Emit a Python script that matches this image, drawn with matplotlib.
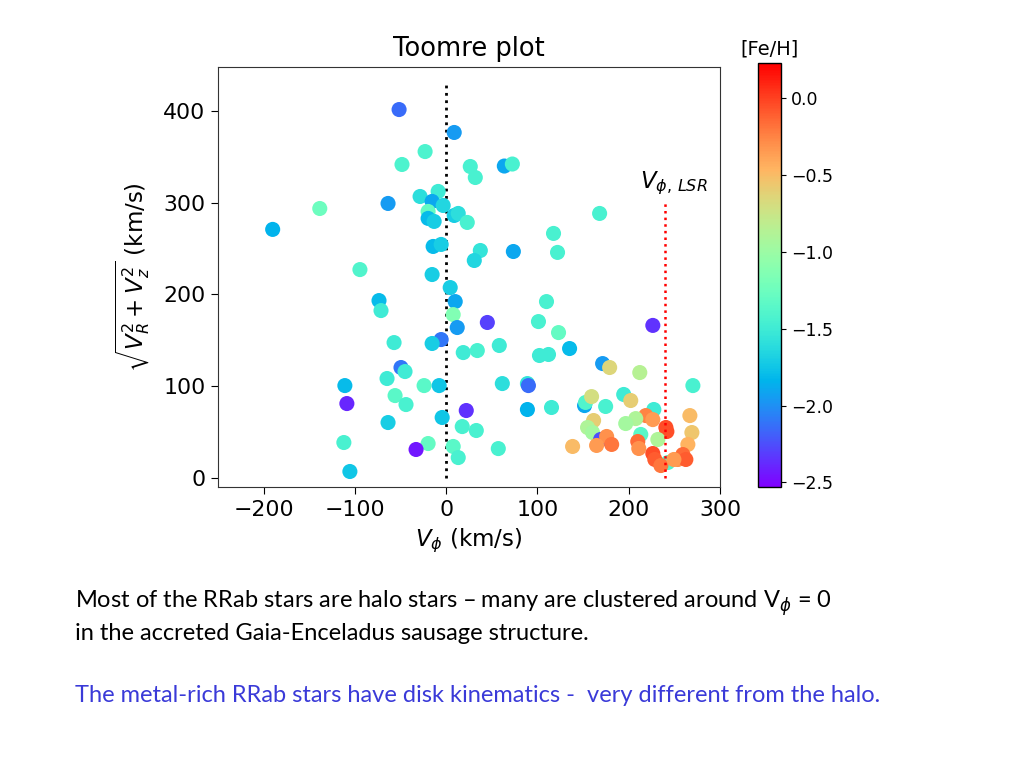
import matplotlib
matplotlib.use("Agg")
import matplotlib.pyplot as plt
import numpy as np

# ---- data ----
# Halo stars
halo_vphi = [-51.6, 8.8, -23.1, -48.4, 26.4, 31.9, 63.7, 72.5, -138.5, -63.7,
             -190.1, -28.6, -8.8, -15.4, -3.3, -19.8, -19.8, -13.2, 8.8, 13.2,
             23.1, -14.3, -5.5, 37.4, 30.8, 73.6, -94.5, -15.4, 168.1, 117.6,
             122.0, 4.4, 9.9, 7.7, -73.6, -71.4, 12.1, -5.5, -15.4, -57.1,
             18.7, 34.1, 58.2, 45.1, 109.9, 101.1, 123.1, 135.2, 102.2, 112.1,
             -49.5, -45.1, -64.8, -24.2, -7.7, -111.0, 61.5, 89.0, 90.1, -56.0,
             -44.0, -108.8, 22.0, 89.0, 115.4, -4.4, -63.7, 17.6, 33.0, -112.1,
             -19.8, -33.0, 7.7, 13.2, 57.1, -105.5, 226.4]
halo_vrz = [401.6, 376.6, 355.8, 341.7, 339.5, 327.5, 340.0, 342.2, 293.7, 299.2,
            270.9, 306.8, 312.3, 301.4, 297.0, 290.5, 282.9, 279.6, 286.1, 288.3,
            278.5, 252.3, 254.5, 247.9, 237.0, 246.8, 227.1, 221.7, 288.3, 266.5,
            245.8, 207.5, 192.2, 178.0, 193.3, 182.4, 163.9, 150.8, 146.5, 147.5,
            136.6, 138.8, 144.3, 169.4, 192.2, 170.4, 158.4, 141.0, 133.4, 134.5,
            120.3, 115.9, 108.3, 100.6, 100.6, 100.6, 102.8, 102.8, 100.6, 89.7,
            79.9, 81.0, 73.4, 74.5, 76.7, 65.8, 60.3, 55.9, 51.6, 38.5,
            37.4, 30.9, 34.2, 22.1, 31.9, 6.9, 166.2]
halo_feh = [-2.15, -1.95, -1.42, -1.42, -1.45, -1.45, -1.9, -1.45, -1.25, -1.95,
            -1.85, -1.6, -1.5, -1.9, -1.65, -1.3, -1.8, -1.7, -1.7, -1.6,
            -1.45, -1.8, -1.7, -1.55, -1.65, -1.9, -1.4, -1.7, -1.45, -1.45,
            -1.45, -1.7, -1.9, -1.15, -1.8, -1.5, -1.95, -2.1, -1.7, -1.5,
            -1.5, -1.45, -1.5, -2.3, -1.45, -1.45, -1.3, -1.8, -1.5, -1.5,
            -2.1, -1.5, -1.5, -1.35, -1.75, -1.8, -1.6, -1.55, -2.15, -1.35,
            -1.45, -2.4, -2.35, -1.85, -1.5, -1.75, -1.7, -1.45, -1.45, -1.45,
            -1.3, -2.45, -1.35, -1.45, -1.45, -1.75, -2.35]

# Disk-like stars
disk_vphi = [242.9, 151.6, 171.4, 179.1, 212.1, 270.3, 152.7, 159.3, 174.7, 194.5,
             202.2, 227.5, 218.7, 226.4, 207.7, 196.7, 161.5, 154.9, 160.4, 169.2,
             175.8, 181.3, 164.8, 138.5, 240.7, 241.8, 267.0, 269.2, 264.8, 213.2,
             231.9, 209.9, 211.0, 226.4, 228.6, 235.2, 253.8, 259.3, 262.6, 249.5]
disk_vrz = [16.7, 78.8, 124.6, 120.3, 114.8, 100.6, 82.2, 88.6, 77.8, 90.9,
            84.3, 74.5, 67.9, 63.5, 64.6, 59.2, 62.5, 54.9, 49.4, 41.8,
            45.1, 36.4, 35.3, 34.2, 54.9, 50.5, 67.9, 49.4, 36.4, 47.3,
            41.8, 39.6, 32.0, 26.5, 20.0, 13.4, 20.0, 25.4, 20.0, 20.0]
disk_feh = [-1.4, -1.9, -1.95, -0.65, -0.85, -1.45, -1.4, -0.7, -1.45, -1.5,
            -0.6, -1.5, -0.25, -0.35, -0.9, -0.95, -0.6, -0.9, -0.95, -2.25,
            -0.3, -0.2, -0.35, -0.5, -0.05, -0.05, -0.5, -0.55, -0.45, -1.35,
            -0.9, -0.15, -0.3, -0.05, -0.1, -0.2, -0.3, -0.15, -0.1, -0.35]

v_lsr = 240
xticks = [-200, -100, 0, 100, 200, 300]
yticks = [0, 100, 200, 300, 400]
cbar_ticks = [0.0, -0.5, -1.0, -1.5, -2.0, -2.5]

vphi = halo_vphi + disk_vphi
vrz = halo_vrz + disk_vrz
feh = halo_feh + disk_feh

fig = plt.figure(figsize=(10.24, 7.68), dpi=100)
ax = fig.add_axes([218/1024, 1-487/768, (720-218)/1024, (487-67)/768])
cax = fig.add_axes([758/1024, 1-487/768, 23/1024, (487-63)/768])

sc = ax.scatter(vphi, vrz, c=feh, cmap='rainbow', vmin=-2.53, vmax=0.23,
                s=118, edgecolors='none', zorder=3)
ax.vlines(0, 0, 430, colors='black', linestyles=':', linewidth=2, zorder=2)
ax.vlines(v_lsr, 0, 300, colors='red', linestyles=':', linewidth=1.8, zorder=4)
ax.text(212, 316, r'$V_{\phi,\,LSR}$', fontsize=16.5, ha='left', va='baseline')

ax.set_xlim(-250, 300)
ax.set_ylim(-10, 448)
ax.set_xticks(xticks)
ax.set_yticks(yticks)
ax.tick_params(labelsize=15.8, length=5, pad=4)
ax.set_title('Toomre plot', fontsize=18.5, pad=8)
ax.set_xlabel(r'$V_{\phi}$ (km/s)', fontsize=16.5, labelpad=5)
ax.set_ylabel(r'$\sqrt{V_R^2+V_z^2}$ (km/s)', fontsize=16.5, labelpad=8)
for sp in ax.spines.values():
    sp.set_color('#333333')

cb = fig.colorbar(sc, cax=cax)
cb.set_ticks(cbar_ticks)
cb.ax.tick_params(labelsize=12.5)
cb.outline.set_linewidth(1)
cax.set_title('[Fe/H]', fontsize=14, pad=6)

fig.text(75/1024, 1-603/768, r'Most of the RRab stars are halo stars – many are clustered around V$_{\phi}$ = 0',
         fontsize=17, family='Lato', va='center', ha='left')
fig.text(75/1024, 1-633/768, 'in the accreted Gaia-Enceladus sausage structure.',
         fontsize=17, family='Lato', va='center', ha='left')
fig.text(75/1024, 1-695/768, 'The metal-rich RRab stars have disk kinematics -  very different from the halo.',
         fontsize=17, family='Lato', va='center', ha='left', color='#3a3ad8')

fig.savefig('out.png', dpi=100)
